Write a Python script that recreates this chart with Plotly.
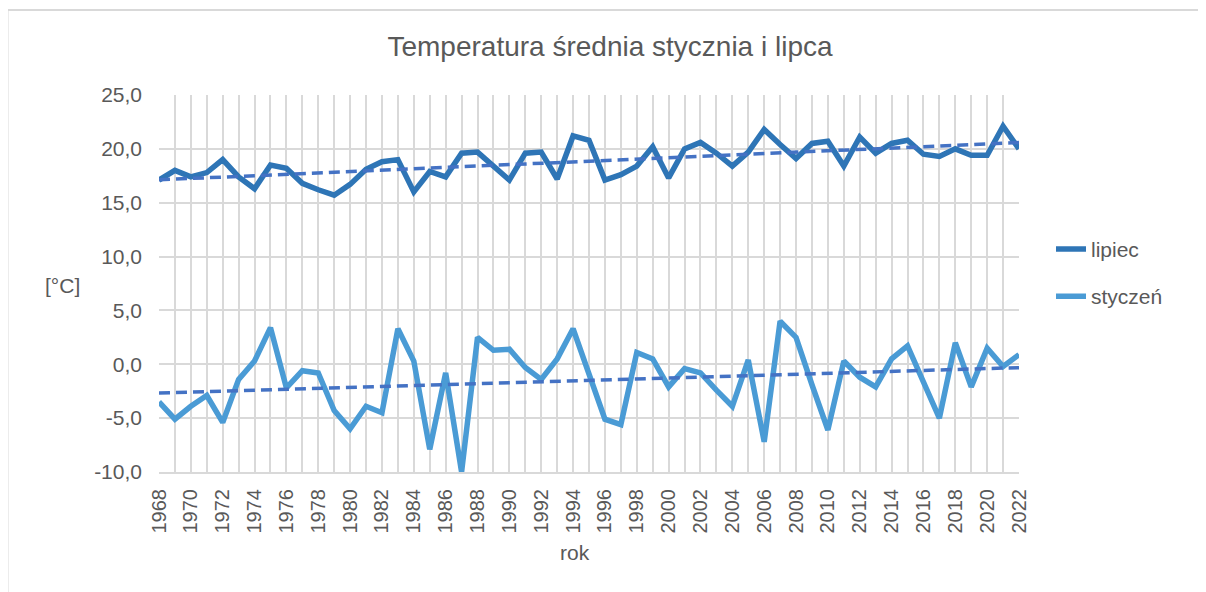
import numpy as np
import plotly.graph_objects as go

years = list(range(1968, 2023))

lipiec = [17.1, 18.0, 17.4, 17.8, 19.0, 17.4, 16.3, 18.5, 18.2, 16.8,
          16.2, 15.7, 16.7, 18.1, 18.8, 19.0, 16.0, 17.9, 17.4, 19.6,
          19.7, 18.4, 17.1, 19.6, 19.7, 17.2, 21.2, 20.8, 17.1, 17.6,
          18.4, 20.2, 17.3, 20.0, 20.6, 19.6, 18.4, 19.7, 21.8, 20.4,
          19.1, 20.5, 20.7, 18.4, 21.1, 19.6, 20.5, 20.8, 19.5, 19.3,
          20.0, 19.4, 19.4, 22.1, 20.0]

styczen = [-3.5, -5.1, -3.9, -2.9, -5.4, -1.4, 0.3, 3.4, -2.2, -0.6,
           -0.8, -4.3, -6.0, -3.9, -4.5, 3.3, 0.3, -7.9, -0.8, -10.0,
           2.5, 1.3, 1.4, -0.3, -1.4, 0.5, 3.3, -0.9, -5.1, -5.6,
           1.1, 0.5, -2.1, -0.4, -0.8, -2.4, -3.9, 0.4, -7.2, 4.0,
           2.5, -1.9, -6.1, 0.3, -1.2, -2.1, 0.5, 1.7, -1.7, -5.0,
           2.0, -2.1, 1.5, -0.2, 0.9]

y_tickvals = [-10, -5, 0, 5, 10, 15, 20, 25]
y_ticktext = ["-10,0", "-5,0", "0,0", "5,0", "10,0", "15,0", "20,0", "25,0"]
x_ticktext = [str(y) if y % 2 == 0 else "" for y in years]

title_text = "Temperatura średnia stycznia i lipca"

FONT = "Liberation Sans, Arial, sans-serif"
TXT = "#595959"
GRID = "#D9D9D9"

yrs = np.array(years, dtype=float)
pl = np.polyfit(yrs, lipiec, 1)
ps = np.polyfit(yrs, styczen, 1)
trend_l = np.polyval(pl, yrs)
trend_s = np.polyval(ps, yrs)

fig = go.Figure()
fig.add_trace(go.Scatter(x=years, y=lipiec, mode="lines", name="lipiec",
                         line=dict(color="#2E75B6", width=5.5), legendgroup="a"))
fig.add_trace(go.Scatter(x=years, y=styczen, mode="lines", name="styczeń",
                         line=dict(color="#4A9BD5", width=5.5), legendgroup="b"))
fig.add_trace(go.Scatter(x=years, y=trend_l, mode="lines", showlegend=False,
                         line=dict(color="#4472C4", width=3.5, dash="11px,6px"),
                         hoverinfo="skip"))
fig.add_trace(go.Scatter(x=years, y=trend_s, mode="lines", showlegend=False,
                         line=dict(color="#4472C4", width=3.5, dash="11px,6px"),
                         hoverinfo="skip"))

# page body has an 8px margin; work in screen coordinates and convert
OFF = 8
W, H = 1206 - OFF, 592 - OFF
PL, PR, PT, PB = 159, 1019, 95, 472.5  # plot area in screen coords
L, R, T, B = PL - OFF, W - (PR - OFF), PT - OFF, H - (PB - OFF)
pw, ph = PR - PL, PB - PT

def px(x):
    return (x - PL) / pw

def py(y):
    return (PB - y) / ph

fig.update_layout(
    width=W, height=H,
    margin=dict(l=L, r=R, t=T, b=B, autoexpand=False),
    paper_bgcolor="white", plot_bgcolor="white",
    font=dict(family=FONT, color=TXT, size=20),
    title=dict(text=title_text, x=(610 - OFF) / W, xanchor="center",
               y=1 - (46 - OFF) / H, yanchor="middle", xref="container", yref="container",
               font=dict(size=28, color=TXT)),
    xaxis=dict(range=[1968, 2022], tickmode="array", tickvals=years, ticktext=x_ticktext,
               tickangle=-90, showgrid=True, gridcolor=GRID, gridwidth=2,
               showline=True, linecolor=GRID, linewidth=2, zeroline=False,
               ticks="", tickfont=dict(size=20, color=TXT), ticklabelstandoff=7),
    yaxis=dict(range=[-10, 25], tickmode="array", tickvals=y_tickvals, ticktext=y_ticktext,
               showgrid=True, gridcolor=GRID, gridwidth=2, zeroline=False,
               showline=False, ticks="", tickfont=dict(size=21, color=TXT),
               ticklabelstandoff=16),
    showlegend=True,
    legend=dict(x=px(1051), xanchor="left", y=py(229), yanchor="top",
                font=dict(size=21, color=TXT), tracegroupgap=17,
                bgcolor="rgba(0,0,0,0)"),
    annotations=[
        dict(text="[°C]", x=px(62), y=py(286), xref="paper", yref="paper",
             showarrow=False, xanchor="center", yanchor="middle",
             font=dict(size=21, color=TXT)),
        dict(text="rok", x=px(575), y=py(553), xref="paper", yref="paper",
             showarrow=False, xanchor="center", yanchor="middle",
             font=dict(size=21, color=TXT)),
    ],
    shapes=[
        dict(type="rect", xref="paper", yref="paper", x0=px(7.5), x1=px(1205),
             y0=py(610), y1=py(10), line=dict(color=GRID, width=2), layer="below"),
    ],
)

fig.write_html("out.html")
